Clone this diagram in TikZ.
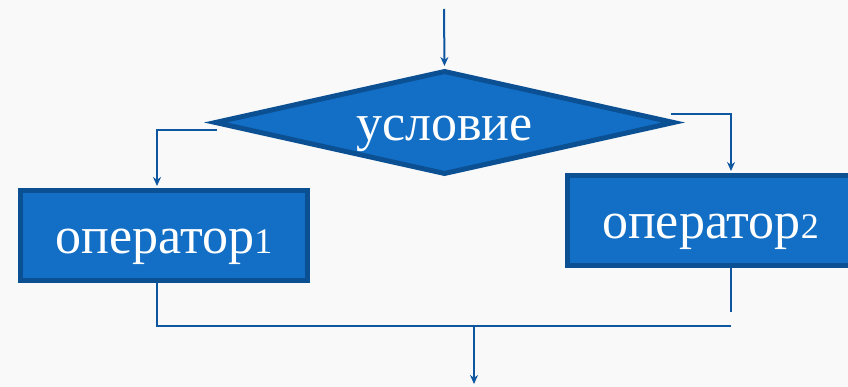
\documentclass[tikz,border=0pt]{standalone}
\usepackage{fontspec}
\setmainfont{Liberation Serif}
\usetikzlibrary{shapes.geometric,arrows.meta}
\definecolor{blockfill}{RGB}{19,111,197}
\definecolor{blockedge}{RGB}{12,80,148}
\definecolor{flowline}{RGB}{14,86,160}
\definecolor{pagebg}{RGB}{249,249,249}
% smaller digits, standing in for old-style figures
\newcommand\smalldigit[1]{{\fontsize{36}{36}\selectfont #1}}
\tikzset{
  blocktext/.style={text=white, font=\fontsize{52}{52}\selectfont,
    text height=47pt, text depth=11pt, inner sep=0pt},
  opbox/.style={blocktext, rectangle, draw=blockedge, fill=blockfill,
    line width=5pt, minimum width=287pt, minimum height=90pt},
  decision/.style={blocktext, diamond, draw=blockedge, fill=blockfill,
    line width=5pt, aspect=4.36, minimum width=460pt, minimum height=104pt},
  flow/.style={draw=flowline, line width=2pt},
  flowarrow/.style={flow, -{Stealth[length=9pt,width=8pt]}, shorten >=2pt},
}
\begin{document}
\begin{tikzpicture}[x=1pt, y=-1pt]
  \useasboundingbox (0,0) rectangle (848,387);
  \clip (0,0) rectangle (848,387);
  \fill[pagebg] (0,0) rectangle (848,387);

  % blocks; the right one runs past the page edge
  \node[decision] (cond) at (444.5,122.5) {условие};
  \node[opbox] (op1) at (164,235.5) {оператор\smalldigit{1}};
  \node[opbox, minimum width=400pt, anchor=west] (op2) at (564.5,220.5)
    {оператор\smalldigit{2}\hspace*{113pt}};

  % connector end points
  \coordinate (entry) at (444,9);
  \coordinate (lstart) at (217,130);
  \coordinate (lcorner) at (157,130);
  \coordinate (rstart) at (671,114);
  \coordinate (rcorner) at (731,114);
  \coordinate (rend) at (731,312);
  \coordinate (join) at (474,326);
  \coordinate (mergeL) at (157,326);
  \coordinate (mergeR) at (731,326);
  \coordinate (exit) at (474,386);

  % incoming arrow
  \draw[flowarrow] (entry) -- (cond.north);
  % branches
  \draw[flowarrow] (lstart) -- (lcorner) -- (lcorner |- op1.north);
  \draw[flowarrow] (rstart) -- (rcorner) -- (rcorner |- op2.north);
  % merge
  \draw[flow] (lcorner |- op1.south) -- (mergeL) -- (mergeR);
  \draw[flow] (rcorner |- op2.south) -- (rend);
  \draw[flowarrow] (join) -- (exit);
\end{tikzpicture}
\end{document}
